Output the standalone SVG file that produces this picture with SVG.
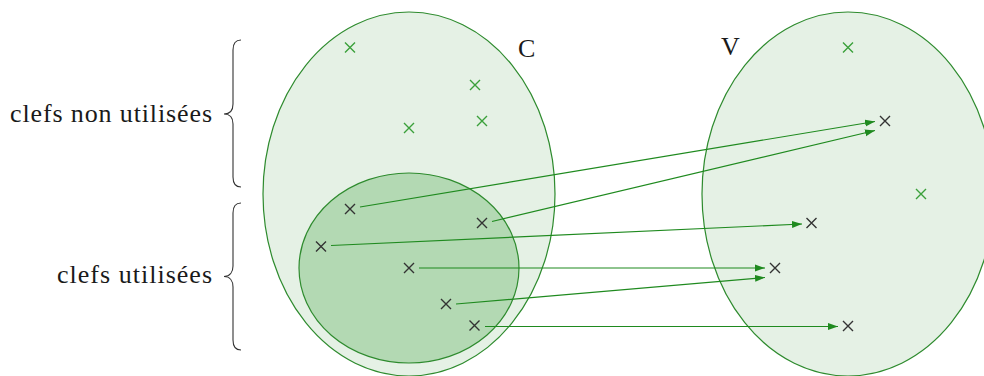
<svg xmlns="http://www.w3.org/2000/svg" width="984" height="376" viewBox="0 0 984 376">
<style>
.set{fill:#e5f1e5;stroke:#2e8b2e;stroke-width:1.2}
.sub{fill:#b3d9b3;stroke:#2e8b2e;stroke-width:1.2}
.xg{stroke:#3aa03a;stroke-width:1.4;fill:none}
.xb{stroke:#333;stroke-width:1.4;fill:none}
.lbl{font-family:"Liberation Serif","Times New Roman",serif;font-size:26px;fill:#1a1a1a}
.brace{fill:none;stroke:#333;stroke-width:1.1}
.arr{stroke:#1f8a1f;stroke-width:1.2;fill:none;marker-end:url(#ah)}
</style>
<defs>
<marker id="ah" markerUnits="userSpaceOnUse" markerWidth="12" markerHeight="8" refX="10" refY="4" orient="auto">
<path d="M0,0.5 L10,4 L0,7.5 z" fill="#1f8a1f"/>
</marker>
<path id="x" d="M-5,-5 L5,5 M-5,5 L5,-5"/>
</defs>
<g id="setC">
<ellipse class="set" cx="409" cy="194" rx="146" ry="182"/>
<text class="lbl" x="518" y="57">C</text>
</g>
<g id="setV">
<ellipse class="set" cx="848" cy="194" rx="146" ry="182"/>
<text class="lbl" x="721" y="55">V</text>
</g>
<g id="used">
<ellipse class="sub" cx="409" cy="268" rx="110" ry="95"/>
</g>
<g id="unusedKeys">
<use href="#x" class="xg" x="350" y="47.5"/>
<use href="#x" class="xg" x="475" y="85"/>
<use href="#x" class="xg" x="482" y="121"/>
<use href="#x" class="xg" x="409" y="128"/>
</g>
<g id="usedKeys">
<use href="#x" class="xb" x="350" y="209"/>
<use href="#x" class="xb" x="482" y="223"/>
<use href="#x" class="xb" x="321" y="246.5"/>
<use href="#x" class="xb" x="409" y="268"/>
<use href="#x" class="xb" x="446" y="304"/>
<use href="#x" class="xb" x="474.5" y="325.5"/>
</g>
<g id="values">
<use href="#x" class="xg" x="848" y="47.5"/>
<use href="#x" class="xg" x="921" y="194"/>
<use href="#x" class="xb" x="885" y="121"/>
<use href="#x" class="xb" x="811.5" y="223"/>
<use href="#x" class="xb" x="775" y="268"/>
<use href="#x" class="xb" x="848" y="326"/>
</g>
<g id="connectors">
<line class="arr" x1="360" y1="207" x2="875" y2="121.5"/>
<line class="arr" x1="492" y1="221.5" x2="875" y2="130.5"/>
<line class="arr" x1="331" y1="245.5" x2="802" y2="224"/>
<line class="arr" x1="419" y1="268" x2="765" y2="268"/>
<line class="arr" x1="456" y1="304" x2="765" y2="277.5"/>
<line class="arr" x1="485" y1="326.5" x2="838" y2="326.5"/>
</g>
<g id="braceUnused">
<path class="brace" d="M241,40 C235,40 233,44 233,50 L233,104 C233,110 230,114 224,114 C230,114 233,118 233,124 L233,177 C233,183 235,187 241,187"/>
<text class="lbl" x="212" y="122" text-anchor="end" textLength="202" lengthAdjust="spacing">clefs non utilisées</text>
</g>
<g id="braceUsed">
<path class="brace" d="M241,203 C235,203 233,207 233,213 L233,266 C233,272 230,276.5 224,276.5 C230,276.5 233,281 233,287 L233,340 C233,346 235,350 241,350"/>
<text class="lbl" x="212" y="283" text-anchor="end" textLength="155" lengthAdjust="spacing">clefs utilisées</text>
</g>
</svg>
